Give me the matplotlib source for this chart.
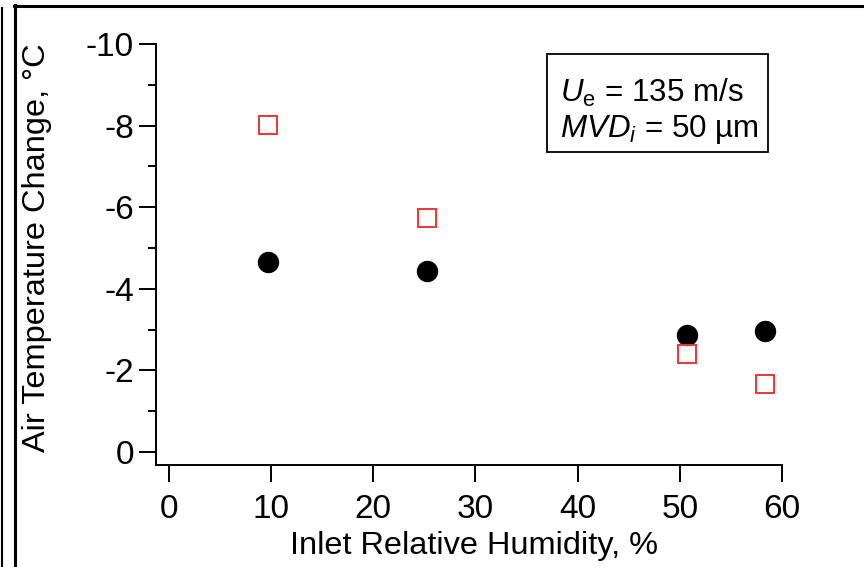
import matplotlib
matplotlib.use("Agg")
import matplotlib.pyplot as plt
from matplotlib.lines import Line2D
from matplotlib.patches import Rectangle
from matplotlib.ticker import MultipleLocator

plt.rcParams['font.family'] = ['Liberation Sans', 'DejaVu Sans']
plt.rcParams['mathtext.fontset'] = 'custom'
plt.rcParams['mathtext.rm'] = 'Liberation Sans'
plt.rcParams['mathtext.it'] = 'Liberation Sans:italic'
plt.rcParams['axes.unicode_minus'] = False

humidity = [9.7, 25.3, 50.7, 58.3]
circle_vals = [-4.66, -4.44, -2.87, -2.97]
square_vals = [-8.01, -5.74, -2.40, -1.67]
xticks = [0, 10, 20, 30, 40, 50, 60]
yticks = [-10, -8, -6, -4, -2, 0]

FS = 24
LFS = 23.4
BFS = 22.6
W, H = 864, 567

fig = plt.figure(figsize=(8.64, 5.67), dpi=100)
ax = fig.add_axes([156/W, 1-465/H, (782-156)/W, (465-44)/H])

ax.plot(humidity, circle_vals, 'o', color='black', markersize=14.4, linestyle='none')
ax.plot(humidity, square_vals, 's', markerfacecolor='none', markeredgecolor='#f03535',
        markeredgewidth=1.4, markersize=13.2, linestyle='none')

ax.set_xlim(-1.27, 60)
ax.set_ylim(0.32, -10)
ax.set_xticks(xticks)
ax.set_yticks(yticks)
ax.yaxis.set_minor_locator(MultipleLocator(1))
ax.spines['top'].set_visible(False)
ax.spines['right'].set_visible(False)
for s in ['left', 'bottom']:
    ax.spines[s].set_linewidth(1.4)
ax.tick_params(axis='both', which='major', length=12, width=1.4, labelsize=FS, direction='out', pad=4)
ax.tick_params(axis='y', which='minor', length=6, width=1.4, direction='out')
ax.tick_params(axis='x', which='major', pad=9)

ax.set_xlabel('Inlet Relative Humidity, %', fontsize=LFS)
ax.set_ylabel('Air Temperature Change, °C', fontsize=LFS)
ax.xaxis.set_label_coords(0.508, -0.156)
ax.yaxis.set_label_coords(-0.166, 0.5166)

# annotation box
fig.add_artist(Rectangle((547/W, 1-152/H), (768-547)/W, (152-54)/H, transform=fig.transFigure,
                         facecolor='white', edgecolor='black', linewidth=1.3))
fig.text(560/W, 1-102/H, '$U_\\mathrm{e}$ = 135 m/s', fontsize=BFS, va='baseline', ha='left')
fig.text(560/W, 1-137/H, '$MVD_i$ = 50 µm', fontsize=BFS, va='baseline', ha='left')

# outer frame lines
fig.add_artist(Line2D([1.5/W, 1.5/W], [0, 1-8/H], transform=fig.transFigure, color='black', lw=1.5))
fig.add_artist(Line2D([14.5/W, 14.5/W], [0, 1-5/H], transform=fig.transFigure, color='black', lw=2.2))
fig.add_artist(Line2D([14/W, 1], [1-6/H, 1-6/H], transform=fig.transFigure, color='black', lw=2.2))

fig.savefig('out.png', dpi=100)
